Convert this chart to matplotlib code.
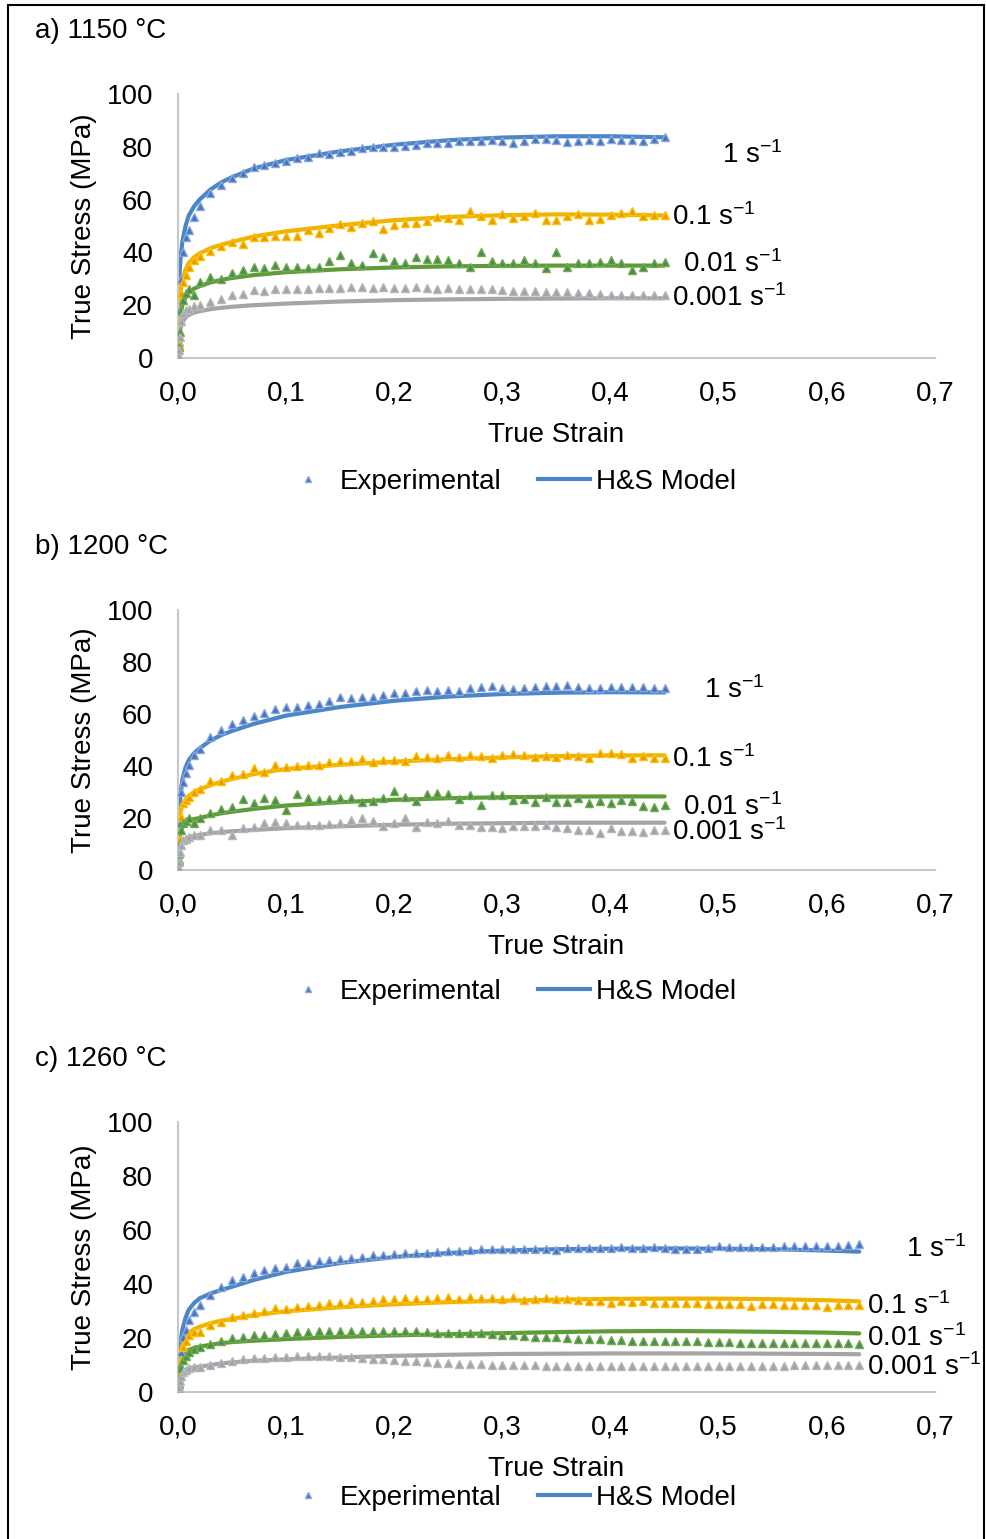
import numpy as np
import matplotlib.pyplot as plt
from matplotlib.lines import Line2D
from matplotlib.patches import Rectangle

plt.rcParams['font.family'] = ['Liberation Sans', 'DejaVu Sans']
plt.rcParams['mathtext.fontset'] = 'custom'
plt.rcParams['mathtext.rm'] = 'Liberation Sans'
plt.rcParams['mathtext.it'] = 'Liberation Sans:italic'
plt.rcParams['font.size'] = 20

# strain rates and panel titles
rates = ['1 s$^{-1}$', '0.1 s$^{-1}$', '0.01 s$^{-1}$', '0.001 s$^{-1}$']
titles = ['a) 1150 °C', 'b) 1200 °C', 'c) 1260 °C']
xticks = [0.0, 0.1, 0.2, 0.3, 0.4, 0.5, 0.6, 0.7]
xticklabels = ['0,0', '0,1', '0,2', '0,3', '0,4', '0,5', '0,6', '0,7']

# strains of the experimental points (dense start, then every 0.01)
early = [0.0, 0.001, 0.002, 0.003, 0.005, 0.007, 0.01, 0.015]
grid_ab = list(np.round(np.arange(2, 46) / 100, 2))
grid_c = list(np.round(np.arange(2, 64) / 100, 2))
exp_strain_ab = early + grid_ab
exp_strain_c = early + grid_c

# strains of the model curves
mod_strain_ab = [0.0005, 0.001, 0.002, 0.004, 0.007, 0.01, 0.015, 0.02, 0.03, 0.04,
                 0.05, 0.07, 0.1, 0.15, 0.2, 0.25, 0.3, 0.35, 0.4, 0.45]
mod_strain_c = mod_strain_ab + [0.5, 0.55, 0.6, 0.63]

# ---- a) 1150 C ----
exp_a_1 = [1, 6, 18, 30, 40.3, 45.9, 48.5, 53.5,
           57.6, 62.4, 65.5, 68.1, 70.2, 72.2, 73.1, 74.0, 74.6, 75.8, 76.0, 77.5, 77.3, 77.9,
           78.5, 79.5, 79.8, 79.8, 80.0, 80.3, 80.7, 81.3, 81.6, 81.6, 82.3, 82.3, 82.1, 82.6,
           82.1, 81.3, 82.3, 82.8, 82.8, 82.6, 81.8, 82.1, 82.6, 82.3, 83.1, 82.6, 82.6, 82.1,
           83.1, 83.6]
exp_a_01 = [1, 5, 14, 24.5, 28.9, 31.5, 34.6, 37.1,
            38.8, 40.7, 42.5, 43.9, 43.3, 45.7, 46.0, 46.2, 46.2, 46.3, 48.5, 47.5, 49.1, 50.8,
            49.7, 51.0, 51.8, 49.0, 50.3, 51.3, 51.3, 51.8, 53.3, 53.0, 52.3, 55.7, 53.8, 52.3,
            54.5, 53.2, 53.8, 54.8, 52.3, 52.3, 53.9, 54.4, 52.3, 52.8, 54.2, 55.0, 55.7, 53.8,
            54.2, 54.1]
exp_a_001 = [1, 4, 10, 18, 22.0, 24.5, 26.0, 23.9,
             28.9, 30.8, 29.8, 32.3, 33.3, 34.5, 34.0, 35.4, 34.5, 34.5, 34.0, 34.5, 36.9, 39.1,
             35.9, 35.1, 39.6, 38.4, 36.9, 35.9, 38.1, 37.5, 37.5, 37.1, 36.1, 34.3, 40.2, 36.9,
             35.9, 35.9, 37.1, 35.9, 34.0, 40.3, 34.3, 36.1, 35.9, 36.5, 37.1, 36.1, 33.3, 34.3,
             35.9, 36.5]
exp_a_0001 = [1, 3, 8, 14, 16.9, 18.2, 18.5, 19.7,
              20.2, 21.3, 22.2, 23.7, 24.4, 25.8, 25.5, 26.0, 26.0, 26.0, 26.3, 26.5, 26.5, 26.5,
              26.8, 26.8, 26.5, 26.8, 26.5, 26.5, 27.0, 26.5, 26.3, 26.5, 26.3, 26.3, 26.0, 26.0,
              25.8, 25.5, 25.5, 25.2, 25.0, 25.0, 25.0, 24.7, 24.5, 24.2, 24.0, 24.0, 23.7, 23.7,
              23.7, 23.7]
mod_a_1 = [20, 28, 36, 44, 50, 54, 57.5, 60, 63.8, 66.5, 68.5, 71.8, 75.0, 78.3, 80.8, 82.5,
           83.5, 84.0, 84.0, 83.6]
mod_a_01 = [12, 18, 24, 29.5, 33.5, 36, 38.2, 39.6, 41.6, 42.9, 44.0, 46.0, 48.0, 50.3, 52.2,
            53.4, 54.1, 54.4, 54.3, 54.0]
mod_a_001 = [8, 12, 16, 20, 23, 24.8, 26.3, 27.2, 28.6, 29.6, 30.3, 31.4, 32.5, 33.6, 34.3,
             34.7, 34.9, 35.0, 35.0, 35.0]
mod_a_0001 = [5, 8, 10.5, 13.5, 15.3, 16.3, 17.2, 17.7, 18.5, 19.0, 19.4, 20.0, 20.6, 21.4,
              21.9, 22.2, 22.4, 22.5, 22.6, 22.6]

# ---- b) 1200 C ----
exp_b_1 = [1, 6, 18, 30.1, 34.0, 37.2, 40.4, 44.2,
           46.5, 51.3, 53.8, 56.0, 57.7, 59.2, 60.5, 62.1, 62.8, 62.8, 63.6, 63.8, 65.1, 66.4,
           66.3, 66.4, 66.7, 67.4, 68.0, 68.2, 69.0, 69.2, 68.7, 69.2, 69.0, 70.0, 70.5, 70.8,
           70.0, 69.5, 70.1, 70.3, 70.8, 70.8, 71.0, 70.5, 70.0, 70.0, 70.3, 70.5, 70.5, 70.5,
           70.0, 70.0]
exp_b_01 = [1, 4, 12, 20.5, 25.6, 26.9, 28.2, 29.9,
            31.2, 34.2, 34.4, 36.7, 36.9, 39.1, 37.6, 40.4, 39.7, 40.0, 40.3, 40.3, 41.5, 42.0,
            41.9, 42.8, 41.5, 42.2, 42.2, 41.9, 43.8, 43.6, 43.1, 44.1, 43.6, 44.4, 43.8, 43.1,
            44.4, 44.6, 44.1, 43.6, 43.8, 43.6, 44.1, 43.8, 43.1, 44.9, 44.9, 44.6, 43.1, 43.8,
            43.1, 43.0]
exp_b_001 = [1, 4, 10, 15.4, 18.0, 19.0, 19.9, 18.2,
             19.9, 21.8, 23.5, 24.4, 27.2, 25.9, 27.6, 26.8, 23.1, 29.1, 27.7, 26.8, 27.3, 27.7,
             27.8, 26.2, 26.5, 27.7, 30.5, 27.9, 26.4, 29.1, 29.5, 29.2, 27.2, 28.7, 24.9, 28.7,
             28.7, 26.9, 27.2, 26.3, 27.9, 26.2, 26.2, 27.6, 25.6, 26.5, 25.6, 27.1, 26.4, 24.6,
             24.4, 25.0]
exp_b_0001 = [1, 3, 7, 9.6, 11.5, 12.0, 12.6, 13.5,
              13.3, 15.4, 15.4, 13.3, 16.0, 16.7, 17.9, 18.5, 18.2, 17.3, 17.2, 17.4, 17.7, 18.2,
              19.2, 20.0, 18.8, 16.9, 18.2, 20.0, 16.4, 18.5, 17.9, 18.7, 17.4, 17.2, 16.4, 16.7,
              16.3, 16.9, 16.9, 16.9, 17.2, 16.4, 16.2, 15.4, 15.4, 14.1, 16.0, 15.1, 15.1, 14.6,
              15.4, 15.4]
mod_b_1 = [12, 20, 27, 34.6, 39.5, 42.3, 45.0, 46.8, 49.8, 51.9, 53.5, 56.2, 59.4, 62.7, 65.1,
           66.7, 67.7, 68.2, 68.4, 68.3]
mod_b_01 = [10, 18, 22, 25, 27, 28.5, 30, 31.0, 32.6, 34.0, 35.0, 36.9, 38.9, 40.5, 41.7,
            42.6, 43.3, 43.8, 44.1, 44.1]
mod_b_001 = [6, 10, 14, 16.5, 18, 19, 19.6, 20.0, 21.0, 21.8, 22.4, 23.5, 24.8, 26.1, 27.0,
             27.6, 28.0, 28.2, 28.3, 28.3]
mod_b_0001 = [4, 7, 9, 10.8, 12, 12.7, 13.2, 13.5, 14.1, 14.6, 14.9, 15.4, 16.1, 16.8, 17.4,
              17.8, 18.0, 18.2, 18.2, 18.2]

# ---- c) 1260 C ----
exp_c_1 = [1, 5, 10, 15, 20.5, 23, 26.7, 29.7,
           32.2, 35.9, 38.8, 41.5, 42.7, 44.2, 45.2, 45.8, 46.5, 47.7, 47.9, 48.6, 48.8, 49.4,
           49.6, 49.9, 50.9, 50.9, 51.1, 51.6, 51.4, 51.6, 52.0, 52.2, 52.3, 52.5, 52.8, 52.8,
           52.8, 53.1, 53.0,
           52.8, 52.9, 52.6, 53.3, 53.3, 53.3, 53.3, 53.3, 53.6, 53.3, 53.3, 53.6, 53.3, 52.8,
           52.8, 53.1, 53.3, 54.1, 53.6, 53.6, 53.6, 53.8, 53.8, 54.1, 54.1, 54.1, 54.1, 54.1,
           54.1, 54.3, 54.8]
exp_c_01 = [1, 4, 8, 12, 16.8, 19, 21.1, 22.3,
            22.3, 24.8, 26.0, 27.7, 28.4, 29.4, 30.0, 31.0, 30.9, 31.4, 31.9, 32.2, 32.8, 33.1,
            33.6, 33.5, 33.8, 34.4, 34.3, 34.7, 34.3, 34.6, 34.8, 35.3, 34.6, 35.3, 34.8, 34.8,
            34.6, 35.1, 34.1,
            34.6, 34.8, 34.6, 34.6, 34.1, 33.6, 33.8, 33.1, 33.8, 33.3, 33.6, 32.8, 32.8, 32.8,
            32.8, 32.8, 32.6, 32.6, 32.6, 32.6, 31.9, 32.6, 32.6, 32.1, 32.3, 32.1, 32.1, 31.4,
            32.3, 32.3, 32.1]
exp_c_001 = [1, 3, 6, 9, 12, 13.5, 14.8, 15.8,
             16.5, 17.8, 19.0, 19.9, 20.5, 21.0, 21.2, 21.5, 22.0, 22.2, 22.3, 22.5, 22.7, 22.7,
             22.7, 22.7, 22.7, 22.5, 22.7, 22.5, 22.5, 22.2, 22.0, 22.0, 22.0, 22.0, 21.7, 21.5,
             21.2, 21.0, 20.7,
             20.5, 20.2, 20.2, 20.0, 19.8, 19.5, 19.5, 19.3, 19.3, 19.0, 19.0, 19.0, 18.8, 18.8,
             18.8, 18.8, 18.5, 18.5, 18.5, 18.3, 18.3, 18.3, 18.3, 18.3, 18.3, 18.3, 18.3, 18.3,
             18.0, 18.0, 17.8]
exp_c_0001 = [0.5, 2, 4, 6, 7.5, 8.2, 8.8, 9.1,
              9.4, 10.0, 10.9, 11.6, 12.1, 12.5, 12.7, 13.0, 13.1, 13.2, 13.2, 13.2, 13.2, 13.1,
              12.8, 12.6, 12.3, 12.1, 11.9, 11.6, 11.4, 11.1, 10.9, 10.6, 10.4, 10.4, 10.3, 10.1,
              10.1, 10.0, 9.9,
              9.9, 9.8, 9.8, 9.8, 9.8, 9.8, 9.8, 9.8, 9.8, 9.8, 9.8, 9.8, 9.8, 9.8,
              9.8, 9.8, 9.8, 9.8, 9.8, 9.8, 9.8, 9.8, 9.8, 9.8, 9.9, 9.9, 9.9, 9.9,
              9.9, 9.9, 10.0]
mod_c_1 = [8, 12, 17, 23, 27.5, 30.5, 33.0, 34.7, 36.5, 37.8, 39.0, 41.5, 44.5, 47.8, 50.0,
           51.5, 52.4, 52.9, 53.1, 53.2, 53.1, 52.9, 52.4, 52.0]
mod_c_01 = [7, 10, 14, 17.5, 20, 22, 23.3, 24.2, 25.5, 26.4, 27.1, 28.5, 29.9, 31.4, 32.5,
            33.3, 33.8, 34.2, 34.5, 34.6, 34.6, 34.4, 34.0, 33.6]
mod_c_001 = [5, 8, 10.6, 13, 14.6, 15.6, 16.3, 16.8, 17.5, 18.1, 18.5, 19.0, 19.6, 20.4, 21.0,
             21.4, 21.8, 22.2, 22.5, 22.6, 22.5, 22.3, 22.0, 21.7]
mod_c_0001 = [2, 3.5, 5.7, 7, 8, 8.8, 9.2, 9.4, 10.0, 10.6, 11.0, 11.6, 12.1, 12.8, 13.4,
              13.8, 14.1, 14.2, 14.3, 14.3, 14.3, 14.2, 14.1, 14.0]

# label anchor points (strain, stress) for the rate annotations
lab_a = [(0.503, 77), (0.457, 53.4), (0.467, 35.6), (0.457, 22.7)]
lab_b = [(0.486, 69.2), (0.457, 42.7), (0.467, 24.2), (0.457, 14.6)]
lab_c = [(0.673, 53.0), (0.637, 31.9), (0.637, 20.0), (0.637, 9.3)]

line_cols = ['#4a86c8', '#f0b400', '#5e9c3a', '#a5a5a5']
mk_face = ['#4472c4', '#e89a00', '#4a8a5a', '#9aa5b1']
mk_edge = ['#8aa6d8', '#ffc000', '#70ad47', '#b8b8b8']

fig = plt.figure(figsize=(9.86, 15.39), dpi=100)

# figure frame
fig.patches.append(Rectangle((8 / 986, -0.01), 976 / 986, 1.01 - 5 / 1539,
                             transform=fig.transFigure, fill=False,
                             edgecolor='black', linewidth=1.5))

panels = [
    ([0.1805, 0.7674, 0.7677, 0.1715], exp_strain_ab, mod_strain_ab,
     [exp_a_1, exp_a_01, exp_a_001, exp_a_0001],
     [mod_a_1, mod_a_01, mod_a_001, mod_a_0001], lab_a, 31, 0.470, (435 - 358) / 264),
    ([0.1805, 0.4347, 0.7677, 0.1689], exp_strain_ab, mod_strain_ab,
     [exp_b_1, exp_b_01, exp_b_001, exp_b_0001],
     [mod_b_1, mod_b_01, mod_b_001, mod_b_0001], lab_b, 547, 0.469, (947 - 870) / 260),
    ([0.1805, 0.0955, 0.7677, 0.1754], exp_strain_c, mod_strain_c,
     [exp_c_1, exp_c_01, exp_c_001, exp_c_0001],
     [mod_c_1, mod_c_01, mod_c_001, mod_c_0001], lab_c, 1059, 0.393, (1469 - 1392) / 270),
]

for k, (rect, es, ms, exps, mods, labs, ty, legy, laby) in enumerate(panels):
    ax = fig.add_axes(rect)
    for i in range(4):
        ax.plot(ms, mods[i], color=line_cols[i], lw=3, solid_capstyle='round', zorder=2)
    for i in range(4):
        ax.plot(es, exps[i], ls='none', marker='^', ms=5.5, mfc=mk_face[i],
                mec=mk_edge[i], mew=1.0, zorder=3)
    for i in range(4):
        ax.text(labs[i][0], labs[i][1], rates[i], ha='left', va='center', fontsize=20)

    ax.set_xlim(0, 0.7)
    ax.set_ylim(0, 100)
    ax.set_xticks(xticks)
    ax.set_xticklabels(xticklabels)
    ax.set_yticks([0, 20, 40, 60, 80, 100])
    ax.tick_params(length=0, labelsize=20)
    ax.tick_params(axis='y', pad=18)
    ax.tick_params(axis='x', pad=16)
    for s in ['top', 'right']:
        ax.spines[s].set_visible(False)
    for s in ['left', 'bottom']:
        ax.spines[s].set_color('#c8c8c8')
        ax.spines[s].set_linewidth(1.5)

    ax.text(0.5, -laby, 'True Strain', transform=ax.transAxes,
            ha='center', va='center', fontsize=20)
    ax.text(-0.124, 0.5, 'True Stress (MPa)', transform=ax.transAxes, rotation=90,
            ha='center', va='center', fontsize=20)

    handles = [Line2D([], [], ls='none', marker='^', ms=4, mfc=mk_face[0], mec=mk_edge[0]),
               Line2D([], [], color=line_cols[0], lw=3)]
    ax.legend(handles, ['Experimental', 'H&S Model'], loc='center',
              bbox_to_anchor=(0.437, -legy), ncol=2, frameon=False, fontsize=20,
              handlelength=1.87, handletextpad=0.2, columnspacing=1.33)

    fig.text(35 / 986, 1 - ty / 1539, titles[k], ha='left', va='center', fontsize=20)

fig.savefig('out.png', dpi=100)
